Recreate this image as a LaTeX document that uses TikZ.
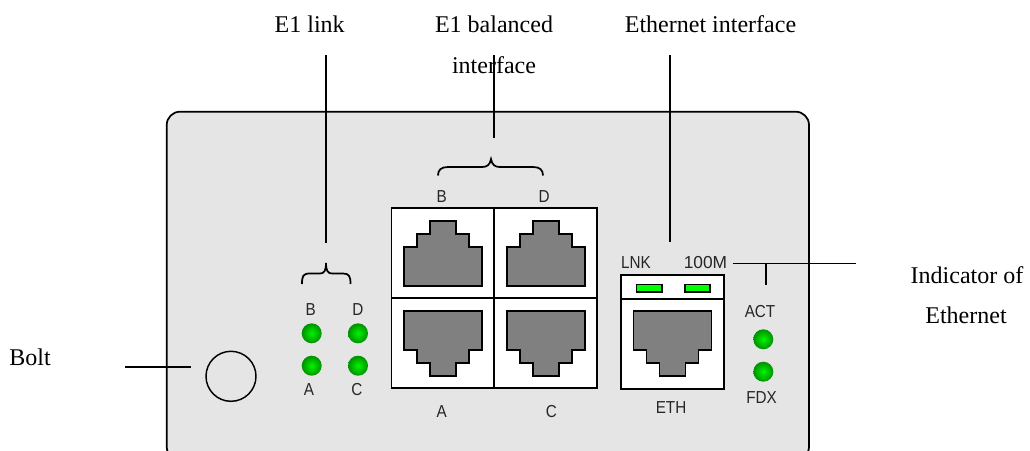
\documentclass[tikz,border=0pt]{standalone}
\usepackage{fontspec}
\setmainfont{Liberation Serif}
\setsansfont{Liberation Sans}
\newfontfamily\tagfont[FakeStretch=0.88]{Liberation Sans}
\tikzset{
  panel/.style={draw=black,line width=1.3pt,fill=panelgray,rounded corners=10pt},
  wire/.style={draw=black,line width=1.3pt},
  portbox/.style={draw=black,line width=1.3pt,fill=white},
  jack/.style={draw=black,line width=1.3pt,fill=jackgray},
  lamp/.style={draw=black,line width=1pt,fill=lampgreen},
  ledl/.style={circle,minimum size=15pt,inner sep=0pt,shade,inner color=ledhi,outer color=ledlo,draw=none},
  bolt/.style={circle,minimum size=37.5pt,inner sep=0pt,draw=black,line width=1.1pt},
  callout/.style={font=\rmfamily\fontsize{18}{20}\selectfont,inner sep=0pt,text=black,anchor=base},
  tag/.style={font=\tagfont\fontsize{13}{15}\selectfont,inner sep=0pt,text=black!85},
  tagwide/.style={font=\sffamily\fontsize{13}{15}\selectfont,inner sep=0pt,text=black!85},
}
\definecolor{panelgray}{RGB}{229,229,229}
\definecolor{jackgray}{RGB}{128,128,128}
\definecolor{lampgreen}{RGB}{0,255,0}
\definecolor{ledhi}{RGB}{0,245,0}
\definecolor{ledlo}{RGB}{0,145,0}
\newcommand{\jackup}[2]{\draw[jack] (#1,#2) -- ++(0,-39) -- ++(13,0) -- ++(0,-13) -- ++(13,0) -- ++(0,-13) -- ++(26,0) -- ++(0,13) -- ++(13,0) -- ++(0,13) -- ++(13,0) -- ++(0,39) -- cycle;}
\newcommand{\jackdown}[2]{\draw[jack] (#1,#2) -- ++(0,39) -- ++(13,0) -- ++(0,13) -- ++(13,0) -- ++(0,13) -- ++(26,0) -- ++(0,-13) -- ++(13,0) -- ++(0,-13) -- ++(13,0) -- ++(0,-39) -- cycle;}
\begin{document}
\begin{tikzpicture}[x=0.75pt,y=-0.75pt]
\useasboundingbox (0,0) rectangle (1030,450);
\clip (0,0) rectangle (1030,450);
\draw[panel] (166.7,111.7) rectangle (809,460);
% ports
\draw[portbox] (391.5,207.7) rectangle (494,298);
\draw[portbox] (494,207.7) rectangle (597,298);
\draw[portbox] (391.5,298) rectangle (494,388);
\draw[portbox] (494,298) rectangle (597,388);
\jackup{404}{285.7}
\jackup{507}{285.7}
\jackdown{404}{311}
\jackdown{507}{311}
% ethernet
\draw[portbox] (620.7,274.7) rectangle (723.7,298.7);
\draw[portbox] (620.7,298.7) rectangle (723.7,388.7);
\draw[lamp] (636.7,284.3) rectangle (662,292);
\draw[lamp] (685,284.3) rectangle (710,292);
\jackdown{633.5}{311}
% LEDs
\node[ledl] (lb) at (311.7,333.3) {};
\node[ledl] (la) at (311.7,365.7) {};
\node[ledl] (ld) at (358,333.3) {};
\node[ledl] (lc) at (358,365.7) {};
\node[ledl] (lact) at (763.3,339.3) {};
\node[ledl] (lfdx) at (763.3,371.7) {};
\node[bolt] (boltc) at (231,376.3) {};
% tags
\node[tag] (tb) at (310.7,310) {B};
\node[tag] (td) at (358,310) {D};
\node[tag] (ta) at (309,390) {A};
\node[tag] (tc) at (357,390) {C};
\node[tag] (pb) at (441.7,196.5) {B};
\node[tag] (pd) at (544,196.5) {D};
\node[tag] (pa) at (441.7,411.7) {A};
\node[tag] (pc) at (551.3,411.7) {C};
\node[tag] (lnk) at (636,263) {LNK};
\node[tagwide] (hm) at (705.5,263) {100M};
\node[tag] (act) at (760,311.7) {ACT};
\node[tag] (fdx) at (761.5,397.3) {FDX};
\node[tag] (eth) at (671,407.7) {ETH};
% callouts
\node[callout] (c1) at (309.7,32.5) {E1 link};
\node[callout] (c2a) at (494,32.5) {E1 balanced};
\node[callout] (c2b) at (494,73.5) {interface};
\node[callout] (c3) at (710.5,32.5) {Ethernet interface};
\node[callout] (c4a) at (967,283) {Indicator of};
\node[callout] (c4b) at (966,323.5) {Ethernet};
\node[callout] (c5) at (30,365) {Bolt};
% wires
\coordinate (w1a) at (326,55); \coordinate (w1b) at (326,243);
\coordinate (w2a) at (494,55); \coordinate (w2b) at (494,138);
\coordinate (w3a) at (670,55); \coordinate (w3b) at (670,242);
\coordinate (w4a) at (733,263.5); \coordinate (w4b) at (856,263.5);
\coordinate (w5a) at (766,263.5); \coordinate (w5b) at (766,284.5);
\coordinate (w6a) at (125,367); \coordinate (w6b) at (191,367);
\draw[wire] (w1a) -- (w1b);
\draw[wire] (w2a) -- (w2b);
\draw[wire] (w3a) -- (w3b);
\draw[wire] (w4a) -- (w4b);
\draw[wire] (w5a) -- (w5b);
\draw[wire] (w6a) -- (w6b);
% braces
\draw[wire] (302,284) .. controls (302,276) and (303,273.5) .. (310,273.5) -- (320,273.5) .. controls (324,273.5) and (326,271) .. (326,263) .. controls (326,271) and (328,273.5) .. (332,273.5) -- (343,273.5) .. controls (349,273.5) and (350.5,276) .. (350.5,284);
\draw[wire] (438,175.5) .. controls (438,170) and (441,167) .. (448,167) -- (482,167) .. controls (487,167) and (490,165) .. (491,159) .. controls (492,165) and (495,167) .. (500,167) -- (533,167) .. controls (540,167) and (543,170) .. (543,175.5);
\end{tikzpicture}
\end{document}
